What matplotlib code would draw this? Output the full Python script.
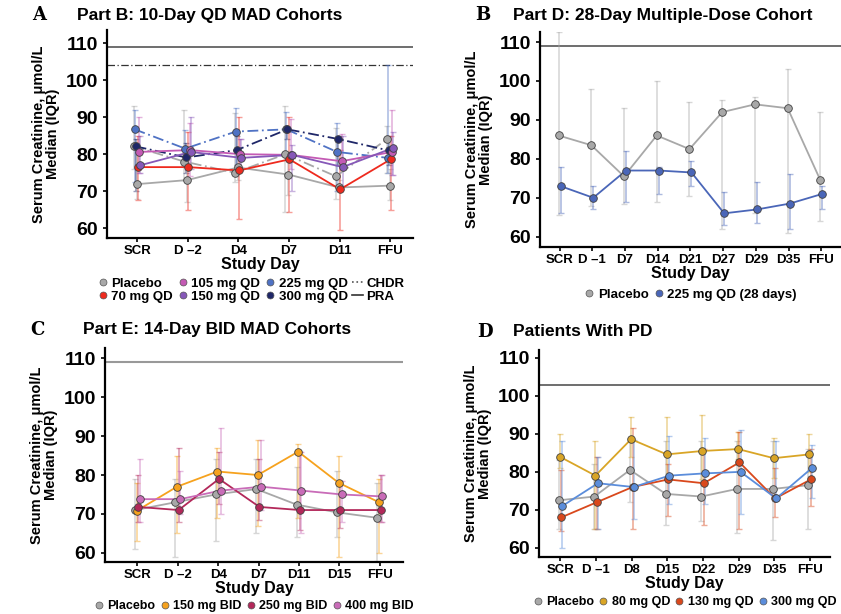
import numpy as np
import matplotlib.pyplot as plt
from matplotlib.lines import Line2D

plt.rcParams['font.family'] = ['Liberation Sans', 'DejaVu Sans']
plt.rcParams['font.weight'] = 'bold'

# ---- Panel A: Part B, 10-day QD MAD ----
days_a = ['SCR', 'D \u20132', 'D4', 'D7', 'D11', 'FFU']
a_plc_chdr = [82.1, 78, 75, 80, 74, 84]
a_plc_chdr_lo = [76, 73, 72.5, 64.5, 68, 75]
a_plc_chdr_hi = [93, 92, 91, 93, 87, 87.5]
a_225 = [86.7, 81.5, 86.1, 86.7, 80.6, 79]
a_225_lo = [72.5, 77, 75, 80, 70, 75]
a_225_hi = [92, 86.5, 92.5, 91.5, 88.5, 104]
a_300 = [82.1, 79.1, 81.1, 86.7, 84.1, 81]
a_300_lo = [70, 75, 77, 84, 77, 77]
a_300_hi = [84, 83, 85, 87, 85, 85]
a_plc_pra = [71.9, 73, 76.4, 74.5, 71, 71.5]
a_plc_pra_lo = [68, 67, 73, 69, 70, 67.5]
a_plc_pra_hi = [82, 78, 77, 80, 73, 76]
a_70 = [76.5, 76.5, 75.6, 78.6, 70.5, 78.6]
a_70_lo = [67.5, 65, 62.5, 64.5, 59.5, 65]
a_70_hi = [85, 86, 90, 90, 81, 85]
a_105 = [80.6, 81.1, 80, 79.8, 78.1, 80.6]
a_105_lo = [75, 74, 76.5, 76, 76, 74.5]
a_105_hi = [90, 88.5, 84, 89.5, 85.5, 92]
a_150 = [77, 80.6, 79, 79.8, 76.5, 81.7]
a_150_lo = [75, 76, 76, 70, 71.5, 74.5]
a_150_hi = [85, 90, 84, 82.5, 85, 86]

# ---- Panel B: Part D, 28-day ----
days_b = ['SCR', 'D \u20131', 'D7', 'D14', 'D21', 'D27', 'D29', 'D35', 'FFU']
b_plc = [86, 83.5, 75.5, 86, 82.5, 92, 94, 93, 74.5]
b_plc_lo = [65.5, 68, 68.5, 69, 70.5, 62, 66, 61, 64]
b_plc_hi = [112.5, 98, 93, 100, 94.5, 95, 96, 103, 92]
b_225 = [73, 70, 77, 77, 76.5, 66, 67, 68.5, 71]
b_225_lo = [66, 67, 69, 71, 73, 63, 63.5, 62, 67]
b_225_hi = [78, 73, 82, 78, 79.5, 71.5, 74, 76, 73]

# ---- Panel C: Part E, 14-day BID ----
days_c = ['SCR', 'D \u20132', 'D4', 'D7', 'D11', 'D15', 'FFU']
c_plc = [71, 73, 75, 76.4, 72.4, 70.4, 69]
c_plc_lo = [61, 59, 63, 65, 64, 64, 58]
c_plc_hi = [79, 79, 84, 84, 82, 81, 78]
c_150 = [70.8, 77, 80.9, 80, 86, 78, 73]
c_150_lo = [63, 65, 69, 67, 69, 59, 60]
c_150_hi = [78, 85, 87, 89, 88, 85, 79]
c_250 = [71.8, 71, 79, 71.8, 71, 71, 71]
c_250_lo = [68, 68, 72.5, 68.5, 66, 66.5, 68]
c_250_hi = [80, 87, 86, 84, 86, 78.5, 80]
c_400 = [73.8, 73.8, 76, 77, 76, 75, 74.5]
c_400_lo = [68, 70, 70, 71, 65, 68, 68]
c_400_hi = [84, 81, 92, 89, 86, 78.5, 80]

# ---- Panel D: patients with PD ----
days_d = ['SCR', 'D \u20131', 'D8', 'D15', 'D22', 'D29', 'D35', 'FFU']
d_plc = [72.5, 73.5, 80.5, 74.2, 73.5, 75.5, 75.5, 76.5]
d_plc_lo = [65, 65, 72, 66, 67, 64, 62, 65]
d_plc_hi = [83, 82, 88, 88, 88, 88, 88, 86]
d_80 = [84, 79, 88.6, 84.6, 85.5, 86, 83.6, 84.6]
d_80_lo = [81, 65, 84, 78.5, 78, 83.5, 78.5, 80]
d_80_hi = [90, 88, 94.5, 94.5, 95, 90.5, 89, 90]
d_130 = [68, 72, 76, 78, 77, 82.5, 73, 78]
d_130_lo = [64.5, 65, 65, 68.5, 66, 65, 68, 71]
d_130_hi = [80.5, 84, 91.5, 82, 86, 90.5, 81, 86]
d_300 = [71, 77, 76, 79, 79.6, 80, 73, 81]
d_300_lo = [60, 65, 67.5, 71.5, 71.5, 69, 73, 73]
d_300_hi = [88, 84, 88.5, 89.5, 89, 91, 88, 87]

GRAY = '#a8a8a8'
DASHDOT = (0, (6, 2, 1, 2))


def series(ax, y, lo, hi, color, off, ls='-'):
    x = np.arange(len(y)) + off
    y = np.array(y)
    err = [y - np.array(lo), np.array(hi) - y]
    ax.errorbar(x, y, yerr=err, fmt='none', ecolor=color, alpha=0.45,
                elinewidth=1.2, capsize=2.2, capthick=1.0, zorder=2)
    ax.plot(x, y, ls=ls, color=color, lw=1.3, zorder=3)
    ax.plot(x, y, 'o', ms=5.5, mfc=color, mec='#404040', mew=0.6, zorder=4)


def style(ax, days, xlim, ylim):
    ax.set_xlim(*xlim)
    ax.set_ylim(*ylim)
    ax.set_xticks(range(len(days)))
    ax.set_xticklabels(days, fontsize=9.5, fontweight='bold')
    ax.set_yticks([60, 70, 80, 90, 100, 110])
    ax.tick_params(axis='y', labelsize=14, length=3, width=1.2)
    ax.tick_params(axis='x', length=3, width=1.2, pad=2)
    for lab in ax.get_yticklabels():
        lab.set_fontweight('bold')
    for s in ['top', 'right']:
        ax.spines[s].set_visible(False)
    for s in ['left', 'bottom']:
        ax.spines[s].set_linewidth(1.6)
    ax.set_xlabel('Study Day', fontsize=11.5, fontweight='bold', labelpad=0)
    ax.set_ylabel('Serum Creatinine, \u03bcmol/L\nMedian (IQR)', fontsize=10.5,
                  fontweight='bold', labelpad=4, linespacing=1.0)


def mk(color):
    return Line2D([], [], ls='none', marker='o', ms=5, mfc=color, mec='#555555', mew=0.5)


def legend(ax, handles, labels, ncol, x, y, size=9.5):
    ax.legend(handles, labels, ncol=ncol, loc='upper center', bbox_to_anchor=(x, y),
              frameon=False, prop={'size': size, 'weight': 'bold'}, handlelength=0.8,
              handletextpad=0.25, columnspacing=0.35, labelspacing=0.05, borderaxespad=0)


fig = plt.figure(figsize=(8.41, 6.14), dpi=100)

# Panel A
axA = fig.add_axes([0.127, 0.612, 0.364, 0.339])
axA.axhline(109, color='#555555', lw=1.2, zorder=1)
axA.axhline(104, color='#333333', lw=0.9, ls=DASHDOT, zorder=1)
series(axA, a_plc_chdr, a_plc_chdr_lo, a_plc_chdr_hi, GRAY, -0.07, ls=DASHDOT)
series(axA, a_225, a_225_lo, a_225_hi, '#4f72c4', -0.05, ls=DASHDOT)
series(axA, a_300, a_300_lo, a_300_hi, '#1f2768', -0.03, ls=DASHDOT)
series(axA, a_plc_pra, a_plc_pra_lo, a_plc_pra_hi, GRAY, -0.01)
series(axA, a_70, a_70_lo, a_70_hi, '#ee2a1e', 0.01)
series(axA, a_105, a_105_lo, a_105_hi, '#c45ab4', 0.04)
series(axA, a_150, a_150_lo, a_150_hi, '#8658b8', 0.06)
style(axA, days_a, (-0.6, 5.45), (57.3, 113.5))
hA = [mk(GRAY), mk('#ee2a1e'), mk('#c45ab4'), mk('#8658b8'), mk('#4f72c4'), mk('#1f2768'),
      Line2D([], [], color='#555555', ls=':', lw=1.2),
      Line2D([], [], color='#333333', ls='-', lw=1.2)]
lA = ['Placebo', '70 mg QD', '105 mg QD', '150 mg QD', '225 mg QD', '300 mg QD', 'CHDR', 'PRA']
legend(axA, hA, lA, 4, 0.47, -0.165)

# Panel B
axB = fig.add_axes([0.642, 0.598, 0.358, 0.350])
axB.axhline(109, color='#555555', lw=1.2, zorder=1)
series(axB, b_plc, b_plc_lo, b_plc_hi, GRAY, -0.03)
series(axB, b_225, b_225_lo, b_225_hi, '#4a66b8', 0.03)
style(axB, days_b, (-0.6, 8.6), (57.4, 112.6))
legend(axB, [mk(GRAY), mk('#4a66b8')], ['Placebo', '225 mg QD (28 days)'], 2, 0.5, -0.17)

# Panel C
axC = fig.add_axes([0.125, 0.085, 0.354, 0.348])
axC.axhline(109, color='#999999', lw=1.5, zorder=1)
series(axC, c_plc, c_plc_lo, c_plc_hi, GRAY, -0.06)
series(axC, c_150, c_150_lo, c_150_hi, '#f6a21e', -0.02)
series(axC, c_250, c_250_lo, c_250_hi, '#b3285a', 0.02)
series(axC, c_400, c_400_lo, c_400_hi, '#c96cb8', 0.06)
style(axC, days_c, (-0.8, 6.57), (57.7, 112.6))
legend(axC, [mk(GRAY), mk('#f6a21e'), mk('#b3285a'), mk('#c96cb8')],
       ['Placebo', '150 mg BID', '250 mg BID', '400 mg BID'], 4, 0.5, -0.155, size=9)

# Panel D
axD = fig.add_axes([0.641, 0.093, 0.346, 0.337])
axD.axhline(103, color='#555555', lw=1.2, zorder=1)
series(axD, d_plc, d_plc_lo, d_plc_hi, GRAY, -0.05)
series(axD, d_80, d_80_lo, d_80_hi, '#d9a526', -0.02)
series(axD, d_130, d_130_lo, d_130_hi, '#d9481c', 0.02)
series(axD, d_300, d_300_lo, d_300_hi, '#5b8ddb', 0.05)
style(axD, days_d, (-0.6, 7.56), (57.6, 112.1))
legend(axD, [mk(GRAY), mk('#d9a526'), mk('#d9481c'), mk('#5b8ddb')],
       ['Placebo', '80 mg QD', '130 mg QD', '300 mg QD'], 4, 0.5, -0.166, size=9)

# titles and panel letters
fig.text(0.038, 0.975, 'A', fontsize=13, fontweight='bold', family='DejaVu Serif', va='center')
fig.text(0.092, 0.975, 'Part B: 10-Day QD MAD Cohorts', fontsize=12.5, fontweight='bold', va='center')
fig.text(0.565, 0.975, 'B', fontsize=13, fontweight='bold', family='DejaVu Serif', va='center')
fig.text(0.610, 0.975, 'Part D: 28-Day Multiple-Dose Cohort', fontsize=12.5, fontweight='bold', va='center')
fig.text(0.036, 0.463, 'C', fontsize=13, fontweight='bold', family='DejaVu Serif', va='center')
fig.text(0.099, 0.463, 'Part E: 14-Day BID MAD Cohorts', fontsize=12.5, fontweight='bold', va='center')
fig.text(0.567, 0.460, 'D', fontsize=13, fontweight='bold', family='DejaVu Serif', va='center')
fig.text(0.610, 0.460, 'Patients With PD', fontsize=12.5, fontweight='bold', va='center')

fig.savefig('out.png', dpi=100)
